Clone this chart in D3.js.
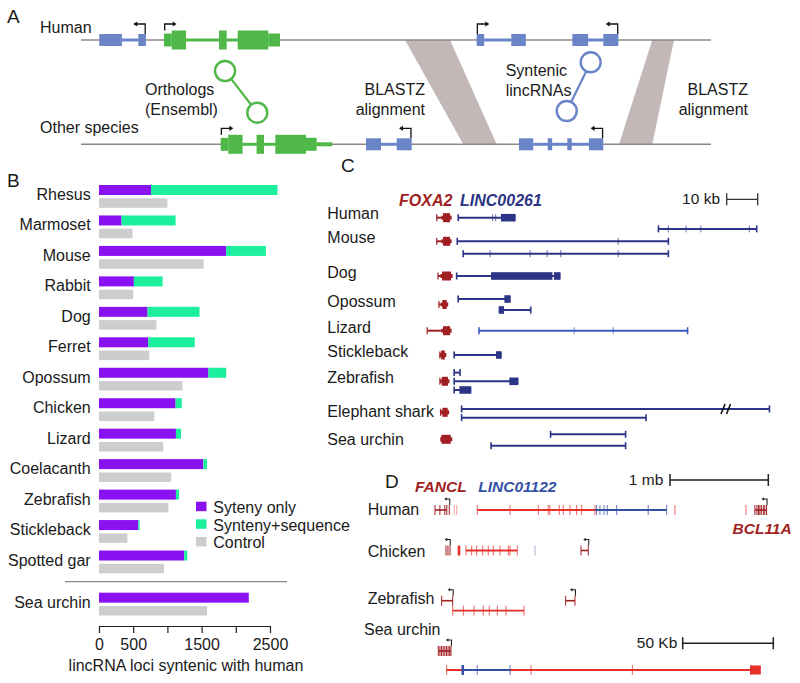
<!DOCTYPE html>
<html><head><meta charset="utf-8">
<script src="https://cdn.jsdelivr.net/npm/d3@7"></script>
<style>body{margin:0;background:#fff}svg{display:block}</style>
</head><body><svg id="c" width="800" height="683"></svg>
<script>
// ---------------- DATA ----------------
// Panel B
const species = ["Rhesus","Marmoset","Mouse","Rabbit","Dog","Ferret","Opossum","Chicken","Lizard","Coelacanth","Zebrafish","Stickleback","Spotted gar","Sea urchin"];
const syntenyOnly = [760,330,1860,510,710,720,1600,1120,1125,1525,1125,575,1245,2190];
const syntenySeq  = [1850,790,580,420,760,680,260,90,75,55,45,20,45,0];
const control     = [1000,490,1530,500,840,735,1220,810,940,1055,1015,415,950,1580];
const xTicks = [0,500,1000,1500,2000,2500];
const xTickLabels = ["0","500","","1500","","2500"];
const legendLabels = ["Syteny only","Synteny+sequence","Control"];
const axisTitle = "lincRNA loci syntenic with human";

// Panel A (schematic units 0-100)
const humanGenes = [
  {kind:"linc", strand:-1, arrowAt:10.3, parts:[[2.9,6.5,"exon"],[6.5,9.1,"intron"],[9.1,10.3,"exon"]]},
  {kind:"coding", strand:1, arrowAt:13.17, parts:[[13.17,14.4,"utr"],[14.4,16.67,"cds"],[16.67,21.9,"intron"],[21.9,23.13,"cds"],[23.13,24.87,"intron"],[24.87,29.73,"cds"],[29.73,31.59,"utr"]]},
  {kind:"linc", strand:1, arrowAt:62.8, parts:[[62.8,64.0,"exon"],[64.0,68.3,"intron"],[68.3,70.6,"exon"]]},
  {kind:"linc", strand:-1, arrowAt:85.3, parts:[[78.0,80.5,"exon"],[80.5,82.9,"intron"],[82.9,85.3,"exon"]]}
];
const otherGenes = [
  {kind:"coding", strand:1, arrowAt:22.17, parts:[[22.17,23.37,"utr"],[23.37,25.65,"cds"],[25.65,27.87,"intron"],[27.87,29.05,"cds"],[29.05,30.84,"intron"],[30.84,35.71,"cds"],[35.71,37.41,"utr"],[37.41,39.89,"tail"]]},
  {kind:"linc", strand:-1, arrowAt:52.49, parts:[[45.24,47.62,"exon"],[47.62,50.11,"intron"],[50.11,52.49,"exon"]]},
  {kind:"linc", strand:-1, arrowAt:82.9, parts:[[69.52,71.79,"exon"],[71.79,80.63,"intron"],[74.08,74.79,"exon"],[77.19,77.89,"exon"],[80.63,82.9,"exon"]]}
];
const blastz = [{top:[51.43,58.57], bottom:[60.68,65.98]}, {top:[90.68,94.13], bottom:[85.40,90.68]}];
const links = [{kind:"coding", a:22.86, b:27.98}, {kind:"linc", a:80.9, b:77.1}];

// Panel C (kb from FOXA2)
const cSpecies = ["Human","Mouse","Dog","Opossum","Lizard","Stickleback","Zebrafish","Elephant shark","Sea urchin"];
const foxa2 = {
  "Human":{line:[-2,2.3], box:[0,2.3]}, "Mouse":{line:[-2,2.3], box:[0,2.3]},
  "Dog":{line:[-1.6,2.6], box:[-0.3,2.6]}, "Opossum":{line:[-1.3,1.2], box:[-0.2,1.2]},
  "Lizard":{line:[-5.1,2.3], box:[0,2.3]}, "Stickleback":{line:[-1,0.6], box:[-0.6,0.6]},
  "Zebrafish":{line:[-1,1.6], box:[-0.4,1.6]}, "Elephant shark":{line:[-0.8,1.5], box:[-0.2,1.5]},
  "Sea urchin":{line:[-0.4,2.5], box:[-0.4,2.5]}
};
const lincC = [
  {sp:"Human", row:0, start:4.9, end:23.2, exons:[[18.7,23.2]], marks:[16.0,17.0]},
  {sp:"Mouse", row:-1, start:69.5, end:101.2, exons:[], marks:[72.7,78.4,83.2,98.8]},
  {sp:"Mouse", row:0, start:4.6, end:72.7, exons:[], marks:[56.5]},
  {sp:"Mouse", row:1, start:6.5, end:72.7, exons:[], marks:[15.2,28.1,33.6,38.0,56.5]},
  {sp:"Dog", row:0, start:4.4, end:37.7, exons:[[15.5,35.3],[35.8,37.7]], marks:[]},
  {sp:"Opossum", row:-0.5, start:4.9, end:21.6, exons:[[19.8,21.6]], marks:[]},
  {sp:"Opossum", row:0.5, start:18.2, end:28.3, exons:[[18.2,19.7]], marks:[]},
  {sp:"Lizard", row:0, start:11.6, end:78.9, exons:[], marks:[42.3,54.9], light:true},
  {sp:"Stickleback", row:0, start:3.6, end:18.7, exons:[[17.1,18.7]], marks:[]},
  {sp:"Zebrafish", row:-1, start:3.6, end:5.5, exons:[], marks:[]},
  {sp:"Zebrafish", row:0, start:3.6, end:24.1, exons:[[21.4,24.1]], marks:[]},
  {sp:"Zebrafish", row:1, start:3.6, end:8.9, exons:[[5.3,8.9]], marks:[]},
  {sp:"Elephant shark", row:-0.5, start:6.0, end:105.3, exons:[], marks:[], brk:91.3},
  {sp:"Elephant shark", row:0.5, start:6.0, end:65.5, exons:[], marks:[]},
  {sp:"Sea urchin", row:-0.5, start:34.7, end:58.9, exons:[], marks:[]},
  {sp:"Sea urchin", row:0.5, start:15.5, end:58.9, exons:[], marks:[]}
];

// Panel D (kb)
const dSpecies = ["Human","Chicken","Zebrafish","Sea urchin"];
const dTracks = [
  // Human
  {sp:"Human", row:0, kind:"dark", start:0, end:120, ticks:[0,50,100,120,145], arrowAt:145},
  {sp:"Human", row:0, kind:"light", ticks:[196,221]},
  {sp:"Human", row:0, kind:"red", start:430, end:1627, ticks:[430,763,1051,1152,1169,1264,1305,1373,1441,1492,1627]},
  {sp:"Human", row:0, kind:"blue", start:1627, end:2356, ticks:[1644,1678,1719,1752,1848,2169,2356]},
  {sp:"Human", row:0, kind:"red", ticks:[2441,3163]},
  {sp:"Human", row:0, kind:"dark", start:3254, end:3373, ticks:[3254,3275,3290,3305,3320,3340,3355,3373], arrowAt:3373},
  // Chicken
  {sp:"Chicken", row:0, kind:"dark", ticks:[112,132,153], arrowAt:150},
  {sp:"Chicken", row:0, kind:"thick", ticks:[244]},
  {sp:"Chicken", row:0, kind:"red", start:315, end:837, ticks:[315,373,424,485,542,593,661,746,763,837]},
  {sp:"Chicken", row:0, kind:"grey", ticks:[1017]},
  {sp:"Chicken", row:0, kind:"dark", start:1485, end:1559, ticks:[1485,1559], arrowAt:1559},
  // Zebrafish
  {sp:"Zebrafish", row:0, kind:"dark", start:68, end:180, ticks:[68,180], arrowAt:180},
  {sp:"Zebrafish", row:1, kind:"red", start:180, end:905, ticks:[180,288,397,491,552,634,722,905]},
  {sp:"Zebrafish", row:0, kind:"dark", start:1329, end:1424, ticks:[1329,1424], arrowAt:1424}
];
const urchinTracks = [
  {row:0, kind:"dark", start:0, end:7, ticks:[0,0.9,1.8,2.7,3.6,4.5,5.4,6.3,7.0], arrowAt:7},
  {row:1, kind:"red", start:4.6, end:173, ticks:[4.6,51.2,107.1,173]},
  {row:1, kind:"blue", start:13.5, end:39.6, ticks:[21.5,39.6]},
  {row:1, kind:"thickblue", ticks:[13.5]}
];
const urchinBox = [172,178];

// ---------------- DRAW ----------------
const FONT = '"Liberation Sans", Arial, Helvetica, sans-serif';
const svg = d3.select("#c").attr("font-family", FONT);
function txt(g, x, y, s, o={}) {
  return g.append("text").attr("x",x).attr("y",y).text(s)
    .attr("font-size", o.size||16).attr("fill", o.fill||"#1a1a1a")
    .attr("text-anchor", o.anchor||"start")
    .attr("font-weight", o.weight||"normal").attr("font-style", o.style||"normal");
}
const GREEN="#4fb848", BLUE="#6a84c8", PURPLE="#8a12f0", MINT="#1cf09c", GREY="#cdcdcd";
const NAVY="#2c3585", DRED="#a11f23", RED="#e8302a", DBLUE="#3451a6";

// Panel letters
txt(svg, 7, 23, "A", {size:19});
txt(svg, 7, 187, "B", {size:19});
txt(svg, 341, 172, "C", {size:19});
txt(svg, 385, 488, "D", {size:19});

// ---- Panel A ----
const gA = svg.append("g");
const xA = d3.scaleLinear().domain([0,100]).range([81,711]);
const yH = 40, yO = 144.3;
blastz.forEach(b => {
  const pts = [[xA(b.top[0]),yH],[xA(b.top[1]),yH],[xA(b.bottom[1]),yO],[xA(b.bottom[0]),yO]];
  gA.append("polygon").attr("points", pts.map(p=>p.join(",")).join(" ")).attr("fill","#c3b7b8");
});
[yH,yO].forEach(y => gA.append("line").attr("x1",xA(0)).attr("x2",xA(100)).attr("y1",y).attr("y2",y)
  .attr("stroke","#8f8787").attr("stroke-width",1.4));
const partH = {intron:3, utr:13, cds:19, exon:12, tail:4};
function drawGeneA(gene, y) {
  const col = gene.kind==="coding" ? GREEN : BLUE;
  gene.parts.filter(p=>p[2]==="intron").concat(gene.parts.filter(p=>p[2]!=="intron")).forEach(([a,b,k]) => {
    gA.append("rect").attr("x",xA(a)).attr("y",y-partH[k]/2).attr("width",xA(b)-xA(a)).attr("height",partH[k]).attr("fill",col);
  });
  const ax = xA(gene.arrowAt) + (gene.strand>0 ? 0.7 : -0.7);
  const top = y - (gene.kind==="coding" ? 9.5 : 6);
  const ya = y - 16, len = 9*gene.strand;
  gA.append("path").attr("d",`M${ax},${top}V${ya}H${ax+len}`).attr("fill","none").attr("stroke","#111").attr("stroke-width",1.3);
  const tx = ax+len+3*gene.strand;
  gA.append("path").attr("d",`M${tx},${ya}L${tx-4*gene.strand},${ya-2.6}L${tx-4*gene.strand},${ya+2.6}Z`).attr("fill","#111");
}
humanGenes.forEach(g => drawGeneA(g, yH));
otherGenes.forEach(g => drawGeneA(g, yO));
const linkY = {coding:[71,112.7], linc:[62.3,111]};
links.forEach(l => {
  const col = l.kind==="coding" ? GREEN : BLUE;
  const x1 = xA(l.a), y1 = linkY[l.kind][0], x2 = xA(l.b), y2 = linkY[l.kind][1];
  const d = Math.hypot(x2-x1,y2-y1), ux=(x2-x1)/d, uy=(y2-y1)/d, r=10;
  gA.append("line").attr("x1",x1+ux*r).attr("y1",y1+uy*r).attr("x2",x2-ux*r).attr("y2",y2-uy*r).attr("stroke",col).attr("stroke-width",2.2);
  [[x1,y1],[x2,y2]].forEach(([cx,cy]) => gA.append("circle").attr("cx",cx).attr("cy",cy).attr("r",r).attr("fill","#fff").attr("stroke",col).attr("stroke-width",2.4));
});
txt(gA, 40, 33, "Human");
txt(gA, 40, 133, "Other species");
txt(gA, 145, 95, "Orthologs");
txt(gA, 145, 115, "(Ensembl)");
txt(gA, 425, 95, "BLASTZ", {anchor:"end"});
txt(gA, 425, 115, "alignment", {anchor:"end"});
txt(gA, 505.7, 76, "Syntenic");
txt(gA, 505.7, 95.7, "lincRNAs");
txt(gA, 748, 95, "BLASTZ", {anchor:"end"});
txt(gA, 748, 115, "alignment", {anchor:"end"});

// ---- Panel B ----
const gB = svg.append("g");
const xB = d3.scaleLinear().domain([0,2500]).range([99,270]);
const rowTop = i => 185 + 30.46*i + (i===13 ? 11.7 : 0);
species.forEach((s,i) => {
  const y = rowTop(i);
  gB.append("rect").attr("x",xB(0)).attr("y",y).attr("width",xB(syntenyOnly[i])-xB(0)).attr("height",10).attr("fill",PURPLE);
  if (syntenySeq[i]>0) gB.append("rect").attr("x",xB(syntenyOnly[i])).attr("y",y).attr("width",xB(syntenyOnly[i]+syntenySeq[i])-xB(syntenyOnly[i])).attr("height",10).attr("fill",MINT);
  gB.append("rect").attr("x",xB(0)).attr("y",y+13.3).attr("width",xB(control[i])-xB(0)).attr("height",9.5).attr("fill",GREY);
  txt(gB, 90.7, y+15, s, {anchor:"end"});
});
gB.append("line").attr("x1",65).attr("x2",287).attr("y1",581.7).attr("y2",581.7).attr("stroke","#888").attr("stroke-width",1.3);
const axB = gB.append("g").attr("transform","translate(0,626)")
  .call(d3.axisBottom(xB).tickValues(xTicks).tickFormat((d,i)=>xTickLabels[i]).tickSize(7).tickSizeOuter(0).tickPadding(6));
axB.attr("font-family",FONT).attr("font-size",16);
axB.selectAll("path,line").attr("stroke","#222").attr("stroke-width",1.2);
axB.selectAll("text").attr("fill","#1a1a1a");
txt(gB, 186, 671, axisTitle, {anchor:"middle"});
const legCols = [PURPLE, MINT, GREY];
legendLabels.forEach((l,i) => {
  const y = 501.7 + 17.6*i;
  gB.append("rect").attr("x",196).attr("y",y).attr("width",10.5).attr("height",9.5).attr("fill",legCols[i]);
  txt(gB, 213.3, y+11.2, l);
});

// ---- Panel C ----
const gC = svg.append("g");
const xC = d3.scaleLinear().domain([0,10]).range([443,474]);
const cCenter = {"Human":217.7,"Mouse":241.3,"Dog":276,"Opossum":304.5,"Lizard":330.7,"Stickleback":355,"Zebrafish":381.3,"Elephant shark":413.3,"Sea urchin":440};
const cPitch = {"Human":0,"Mouse":12.4,"Dog":0,"Opossum":11,"Lizard":0,"Stickleback":0,"Zebrafish":8.7,"Elephant shark":8.7,"Sea urchin":11.4};
const cLabelY = {"Human":219.3,"Mouse":243.3,"Dog":278.3,"Opossum":306.7,"Lizard":332.7,"Stickleback":357.3,"Zebrafish":383.3,"Elephant shark":416.7,"Sea urchin":445};
cSpecies.forEach(s => txt(gC, 327.3, cLabelY[s], s));
txt(gC, 399, 206, "FOXA2", {fill:DRED, weight:"bold", style:"italic"});
txt(gC, 460, 206, "LINC00261", {fill:NAVY, weight:"bold", style:"italic"});
txt(gC, 720, 204, "10 kb", {anchor:"end", size:15.5});
{
  const x0 = 726.7, x1 = x0 + xC(10)-xC(0), y = 199.3;
  gC.append("path").attr("d",`M${x0},${y}H${x1}M${x0},${y-6}V${y+6}M${x1},${y-6}V${y+6}`).attr("stroke","#333").attr("stroke-width",1.3).attr("fill","none");
}
cSpecies.forEach(s => {
  const f = foxa2[s], y = cCenter[s] + (s==="Opossum" ? 0 : 0) + (s==="Elephant shark" ? -1 : 0) + (s==="Sea urchin" ? -0.7 : 0);
  gC.append("line").attr("x1",xC(f.line[0])).attr("x2",xC(f.line[1])).attr("y1",y).attr("y2",y).attr("stroke",DRED).attr("stroke-width",2);
  gC.append("line").attr("x1",xC(f.line[0])).attr("x2",xC(f.line[0])).attr("y1",y-3.5).attr("y2",y+3.5).attr("stroke",DRED).attr("stroke-width",1.2);
  gC.append("rect").attr("x",xC(f.box[0])).attr("y",y-4.5).attr("width",xC(f.box[1])-xC(f.box[0])).attr("height",9).attr("fill",DRED);
  gC.append("rect").attr("x",xC(f.box[0])-1.5).attr("y",y-2).attr("width",xC(f.box[1])-xC(f.box[0])+3).attr("height",4).attr("fill",DRED);
});
lincC.forEach(t => {
  const y = cCenter[t.sp] + t.row*cPitch[t.sp];
  const col = t.light ? "#3d5cc2" : NAVY;
  const a = xC(t.start), b = xC(t.end);
  gC.append("line").attr("x1",a).attr("x2",b).attr("y1",y).attr("y2",y).attr("stroke",col).attr("stroke-width",2);
  [a,b].forEach(x => gC.append("line").attr("x1",x).attr("x2",x).attr("y1",y-3.5).attr("y2",y+3.5).attr("stroke",col).attr("stroke-width",1.6));
  t.marks.forEach(m => gC.append("line").attr("x1",xC(m)).attr("x2",xC(m)).attr("y1",y-3.5).attr("y2",y+3.5).attr("stroke",col).attr("stroke-width",0.9).attr("opacity",0.8));
  t.exons.forEach(([e0,e1]) => gC.append("rect").attr("x",xC(e0)).attr("y",y-3.8).attr("width",xC(e1)-xC(e0)).attr("height",7.6).attr("fill",col));
  if (t.brk) {
    const bx = xC(t.brk);
    gC.append("path").attr("d",`M${bx-5},${y+5}L${bx-1},${y-5}M${bx+0.5},${y+5}L${bx+4.5},${y-5}`).attr("stroke","#111").attr("stroke-width",1.6);
  }
});

// ---- Panel D ----
const gD = svg.append("g");
const xD = d3.scaleLinear().domain([0,1000]).range([435,533.3]);
const xU = d3.scaleLinear().domain([0,50]).range([438.3,528.9]);
const dCenter = {"Human":510,"Chicken":550.5,"Zebrafish":600.7};
const dPitch = 10;
const dLabel = {"Human":[367.7,515],"Chicken":[367.7,556.7],"Zebrafish":[367.7,604],"Sea urchin":[364,635]};
dSpecies.forEach(s => txt(gD, dLabel[s][0], dLabel[s][1], s));
txt(gD, 415, 491.7, "FANCL", {fill:DRED, weight:"bold", style:"italic", size:15.5});
txt(gD, 478.3, 491.7, "LINC01122", {fill:DBLUE, weight:"bold", style:"italic", size:15.5});
txt(gD, 791.7, 534, "BCL11A", {fill:DRED, weight:"bold", style:"italic", size:15.5, anchor:"end"});
txt(gD, 663.3, 485, "1 mb", {anchor:"end", size:15.5});
txt(gD, 677.3, 648.3, "50 Kb", {anchor:"end", size:15.5});
function scaleBar(x0, w, y) {
  gD.append("path").attr("d",`M${x0},${y}H${x0+w}M${x0},${y-6}V${y+6}M${x0+w},${y-6}V${y+6}`).attr("stroke","#222").attr("stroke-width",1.5).attr("fill","none");
}
scaleBar(670, xD(1000)-xD(0), 480);
scaleBar(682.7, xU(50)-xU(0), 643.3);
const kindCol = {dark:DRED, light:"#f2a3a0", red:RED, blue:DBLUE, grey:"#a7b0c8", thick:RED, thickblue:DBLUE};
function drawTrack(g, t, x, y) {
  const col = kindCol[t.kind];
  if (t.start!==undefined) g.append("line").attr("x1",x(t.start)).attr("x2",x(t.end)).attr("y1",y).attr("y2",y).attr("stroke",col).attr("stroke-width",t.kind==="dark"?1.6:1.8);
  t.ticks.forEach(v => {
    const thick = t.kind==="thick"||t.kind==="thickblue";
    g.append("line").attr("x1",x(v)).attr("x2",x(v)).attr("y1",y-5).attr("y2",y+5)
      .attr("stroke",col).attr("stroke-width",thick?2.6:1)
      .attr("opacity",(t.kind==="red"||t.kind==="blue")?0.75:1);
  });
  if (t.arrowAt!==undefined) {
    const ax = x(t.arrowAt)+0.5;
    g.append("path").attr("d",`M${ax},${y-5}V${y-11}H${ax-4}`).attr("fill","none").attr("stroke","#222").attr("stroke-width",1.1);
    g.append("path").attr("d",`M${ax-5.5},${y-11}L${ax-3},${y-12.8}L${ax-3},${y-9.2}Z`).attr("fill","#222");
  }
}
dTracks.forEach(t => drawTrack(gD, t, xD, dCenter[t.sp] + t.row*dPitch));
const uY = [651, 670];
urchinTracks.forEach(t => drawTrack(gD, t, xU, uY[t.row]));
gD.append("rect").attr("x",xU(urchinBox[0])).attr("y",uY[1]-4.5).attr("width",xU(urchinBox[1])-xU(urchinBox[0])).attr("height",9).attr("fill",RED);
</script>
</body></html>
